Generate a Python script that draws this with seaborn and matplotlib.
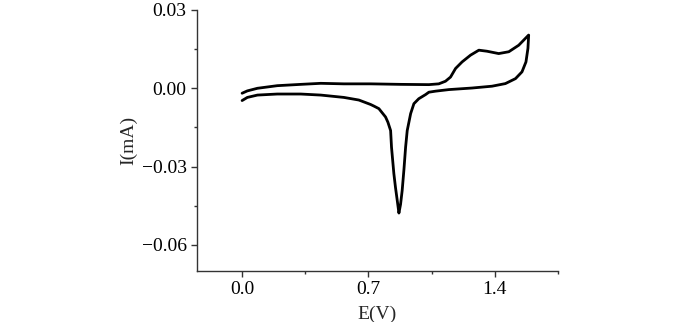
import matplotlib
matplotlib.use("Agg")
import matplotlib.pyplot as plt
import seaborn as sns
import pandas as pd
from matplotlib.ticker import FixedLocator

# Forward (anodic) scan
E_fwd = [0.0, 0.029, 0.085, 0.195, 0.325, 0.436, 0.564, 0.712, 0.88, 1.035, 1.090,
         1.127, 1.155, 1.183, 1.219, 1.266, 1.312, 1.357, 1.422, 1.478, 1.533, 1.588]
I_fwd = [-0.0019, -0.0010, 0.0000, 0.0010, 0.0015, 0.0019, 0.0017, 0.0017, 0.0015,
         0.0014, 0.0017, 0.0027, 0.0043, 0.0076, 0.0101, 0.0127, 0.0146, 0.0142,
         0.0133, 0.0140, 0.0165, 0.0204]
# Reverse (cathodic) scan
E_rev = [1.584, 1.573, 1.551, 1.515, 1.459, 1.385, 1.274, 1.146, 1.072, 1.035, 1.017,
         0.979, 0.952, 0.934, 0.915, 0.906, 0.897, 0.887, 0.878, 0.869, 0.860, 0.850,
         0.841, 0.828, 0.823, 0.808, 0.795, 0.758, 0.730, 0.712, 0.647, 0.564, 0.436,
         0.325, 0.195, 0.085, 0.029, 0.0]
I_rev = [0.0153, 0.0101, 0.0063, 0.0037, 0.0018, 0.0008, 0.0001, -0.0005, -0.0011,
         -0.0015, -0.0024, -0.0040, -0.0059, -0.0097, -0.0162, -0.0226, -0.0310,
         -0.0392, -0.0445, -0.0478, -0.0431, -0.0380, -0.0327, -0.0226, -0.0162,
         -0.0130, -0.0110, -0.0078, -0.0068, -0.0062, -0.0045, -0.0035, -0.0026,
         -0.0022, -0.0022, -0.0026, -0.0035, -0.0047]

x_ticks = [0.0, 0.7, 1.4]
x_ticklabels = ["0.0", "0.7", "1.4"]
y_ticks = [0.03, 0.00, -0.03, -0.06]
y_ticklabels = ["0.03", "0.00", "\u22120.03", "\u22120.06"]

sns.set_style("ticks")
plt.rcParams["font.family"] = ["Liberation Serif", "DejaVu Serif"]

df = pd.DataFrame({"E": E_fwd + E_rev, "I": I_fwd + I_rev})

fig = plt.figure(figsize=(7.0, 3.22), dpi=100)
ax = fig.add_axes([0.2814, 0.1584, 0.797 - 0.2814, 0.969 - 0.1584])
sns.lineplot(data=df, x="E", y="I", sort=False, estimator=None, color="black",
             linewidth=2.0, ax=ax)
for l in ax.lines:
    l.set_solid_joinstyle("round")
    l.set_solid_capstyle("round")

ax.set_xlim(-0.25, 1.75)
ax.set_ylim(-0.07, 0.03)
ax.set_xticks(x_ticks)
ax.set_xticklabels(x_ticklabels)
ax.set_yticks(y_ticks)
ax.set_yticklabels(y_ticklabels)
ax.xaxis.set_minor_locator(FixedLocator([0.35, 1.05, 1.75]))
ax.yaxis.set_minor_locator(FixedLocator([0.015, -0.015, -0.045]))
ax.tick_params(which="major", direction="out", length=4, width=1, colors="#333333",
               labelsize=14, labelcolor="black")
ax.tick_params(which="minor", direction="out", length=2.5, width=1, colors="#333333")
for s in ["top", "right"]:
    ax.spines[s].set_visible(False)
for s in ["left", "bottom"]:
    ax.spines[s].set_color("#333333")
    ax.spines[s].set_linewidth(1)
ax.set_xlabel("E(V)", fontsize=14, labelpad=5)
ax.set_ylabel("I(mA)", fontsize=14, labelpad=3)

fig.savefig("out.png", dpi=100)
